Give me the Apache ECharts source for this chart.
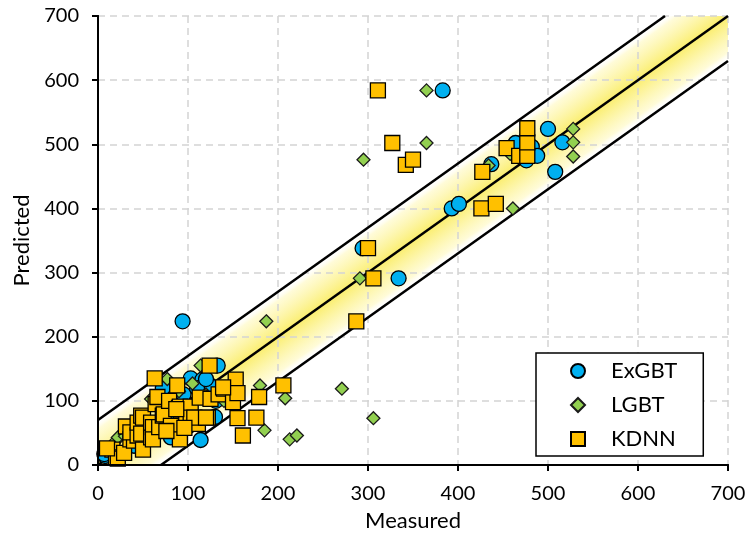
<!DOCTYPE html>
<html>
<head>
<meta charset="utf-8">
<script src="https://cdn.jsdelivr.net/npm/echarts@6/dist/echarts.min.js"></script>
<style>
  html, body { margin: 0; padding: 0; background: #fff; }
  #chart { width: 749px; height: 540px; }
</style>
</head>
<body>
<div id="chart"></div>
<script>
// Axis range and ticks
const AXIS_MIN = 0;
const AXIS_MAX = 700;
const AXIS_STEP = 100;
// Half-width of the tolerance band around the 1:1 line
const BAND_OFFSET = 70;

const seriesNames = ['ExGBT', 'LGBT', 'KDNN'];

// [measured, predicted]
const exgbt = [
  [8, 14], [7, 17], [94, 224], [383, 584], [294, 338], [334, 291],
  [500, 524], [516, 503], [464, 502], [482, 496], [488, 482], [476, 475],
  [508, 457], [437, 469], [393, 400], [401, 407], [103, 135], [116, 133],
  [123, 126], [133, 155], [114, 39], [72, 120], [81, 43], [77, 90],
  [131, 100], [95, 110], [110, 120], [88, 70], [60, 50], [130, 75],
  [100, 60], [40, 30], [70, 100], [120, 134]
];

const lgbt = [
  [20, 38], [22, 43], [365, 584], [365, 502], [295, 476], [291, 291],
  [187, 224], [528, 524], [528, 503], [528, 481], [458, 485], [434, 467],
  [461, 400], [114, 155], [77, 134], [105, 127], [180, 124], [208, 104],
  [271, 119], [306, 73], [185, 54], [213, 40], [221, 46], [88, 56],
  [59, 103], [40, 60], [100, 80], [120, 110], [70, 70], [30, 45],
  [140, 100], [90, 115]
];

const kdnn = [
  [16, 24], [20, 12], [22, 10], [29, 19], [31, 60], [36, 40], [40, 38],
  [36, 51], [44, 46], [44, 66], [48, 77], [48, 49], [50, 24], [50, 74],
  [59, 43], [59, 66], [61, 59], [61, 40], [63, 135], [64, 95], [66, 106],
  [68, 59], [72, 77], [73, 79], [79, 100], [81, 61], [88, 124], [90, 89],
  [91, 40], [91, 91], [92, 85], [98, 64], [103, 91], [103, 74], [111, 64],
  [113, 105], [122, 74], [124, 155], [125, 103], [134, 110], [140, 119],
  [150, 98], [153, 133], [155, 112], [155, 73], [161, 46], [176, 74],
  [179, 106], [206, 124], [287, 224], [300, 338], [306, 291], [311, 584],
  [327, 502], [342, 468], [350, 476], [427, 457], [426, 400], [442, 407],
  [454, 494], [468, 482], [477, 482], [477, 503], [477, 525], [10, 26],
  [87, 87], [107, 74], [120, 74], [96, 58], [76, 53], [139, 121]
];

// Reference lines: 1:1 and the +/- offset lines
const lineMid = [[AXIS_MIN, AXIS_MIN], [AXIS_MAX, AXIS_MAX]];
const lineUpper = [[AXIS_MIN, AXIS_MIN + BAND_OFFSET], [AXIS_MAX - BAND_OFFSET, AXIS_MAX]];
const lineLower = [[AXIS_MIN + BAND_OFFSET, AXIS_MIN], [AXIS_MAX, AXIS_MAX - BAND_OFFSET]];
// Band outline, clipped to the plot box
const bandPolygon = [
  [AXIS_MIN, AXIS_MIN], [AXIS_MIN, AXIS_MIN + BAND_OFFSET],
  [AXIS_MAX - BAND_OFFSET, AXIS_MAX], [AXIS_MAX, AXIS_MAX],
  [AXIS_MAX, AXIS_MAX - BAND_OFFSET], [AXIS_MIN + BAND_OFFSET, AXIS_MIN]
];

const FONT = 'Lato, "Open Sans", sans-serif';

const chart = echarts.init(document.getElementById('chart'), null, { renderer: 'canvas' });

function mainAxis(name, gap) {
  return {
    type: 'value',
    min: AXIS_MIN,
    max: AXIS_MAX,
    interval: AXIS_STEP,
    name: name,
    nameLocation: 'middle',
    nameGap: gap,
    nameTextStyle: { color: '#000', fontSize: 22, fontFamily: FONT },
    axisLine: { show: true, lineStyle: { color: '#000', width: 2 } },
    axisTick: { show: true, inside: false, length: 6, lineStyle: { color: '#000', width: 2 } },
    axisLabel: { color: '#000', fontSize: 20, fontFamily: FONT, margin: 19 },
    splitLine: { show: true, lineStyle: { color: '#d4d4d4', width: 1.5, type: [7, 5] } },
    z: 2
  };
}

// Plain frame line for the top and right sides of the plot box
function frameAxis(position) {
  return {
    type: 'value',
    position: position,
    min: AXIS_MIN,
    max: AXIS_MAX,
    interval: AXIS_STEP,
    axisLine: { show: true, lineStyle: { color: '#000', width: 2 } },
    axisTick: { show: false },
    axisLabel: { show: false },
    splitLine: { show: false },
    z: 10
  };
}

function refLine(data) {
  return {
    type: 'line',
    data: data,
    symbol: 'none',
    silent: true,
    z: 3,
    lineStyle: { color: '#000', width: 2.5 },
    legendHoverLink: false
  };
}

const bandStops = [
  { offset: 0, color: 'rgba(255,255,255,0)' },
  { offset: 0.1, color: 'rgba(255,250,200,0.7)' },
  { offset: 0.5, color: 'rgba(250,236,95,0.9)' },
  { offset: 0.9, color: 'rgba(255,250,200,0.7)' },
  { offset: 1, color: 'rgba(255,255,255,0)' }
];

const option = {
  backgroundColor: '#fff',
  animation: false,
  grid: {
    left: 98, right: 21, top: 16, bottom: 75,
    show: false
  },
  xAxis: [mainAxis('Measured', 45), frameAxis('top')],
  yAxis: [mainAxis('Predicted', 62), frameAxis('right')],
  legend: {
    data: seriesNames,
    orient: 'vertical',
    left: 536,
    top: 353,
    itemWidth: 14,
    itemHeight: 14,
    itemGap: 12,
    padding: [7, 26, 6, 34],
    backgroundColor: '#fff',
    borderColor: '#000',
    borderWidth: 1.5,
    borderRadius: 0,
    formatter: function (name) { return '{t|' + name + '}'; },
    textStyle: {
      color: '#000', fontSize: 22, fontFamily: FONT,
      rich: { t: { color: '#000', fontSize: 22, fontFamily: FONT, padding: [0, 0, 0, 21] } }
    }
  },
  series: [
    {
      type: 'custom',
      silent: true,
      z: 1,
      data: [[0, 0]],
      renderItem: function (params, api) {
        const pts = bandPolygon.map(function (p) { return api.coord(p); });
        const a = api.coord(lineMid[0]);
        const b = api.coord(lineMid[1]);
        let dx = b[0] - a[0], dy = b[1] - a[1];
        const len = Math.hypot(dx, dy);
        dx /= len; dy /= len;
        const nx = -dy, ny = dx;
        const up = api.coord(lineUpper[0]);
        const d = Math.abs((up[0] - a[0]) * nx + (up[1] - a[1]) * ny);
        const m = [(a[0] + b[0]) / 2, (a[1] + b[1]) / 2];
        return {
          type: 'polygon',
          shape: { points: pts },
          style: {
            fill: new echarts.graphic.LinearGradient(
              m[0] - nx * d, m[1] - ny * d, m[0] + nx * d, m[1] + ny * d, bandStops, true)
          }
        };
      }
    },
    refLine(lineMid),
    refLine(lineUpper),
    refLine(lineLower),
    {
      name: 'ExGBT',
      type: 'scatter',
      data: exgbt,
      symbol: 'circle',
      symbolSize: 15,
      z: 4,
      itemStyle: { color: '#00B0F0', borderColor: '#000', borderWidth: 1.3, opacity: 1 }
    },
    {
      name: 'LGBT',
      type: 'scatter',
      data: lgbt,
      symbol: 'diamond',
      symbolSize: 13,
      z: 5,
      itemStyle: { color: '#92D050', borderColor: '#1a1a1a', borderWidth: 1.3, opacity: 1 }
    },
    {
      name: 'KDNN',
      type: 'scatter',
      data: kdnn,
      symbol: 'rect',
      symbolSize: 15,
      z: 6,
      itemStyle: { color: '#FFC000', borderColor: '#000', borderWidth: 1.3, opacity: 1 }
    }
  ]
};

chart.setOption(option);
</script>
</body>
</html>
